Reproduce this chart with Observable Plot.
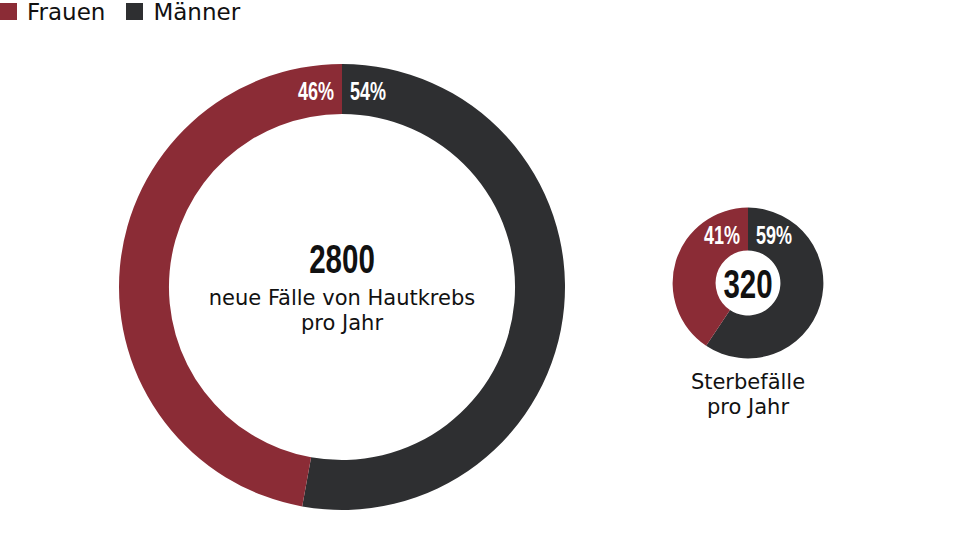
<!DOCTYPE html>
<html><head><meta charset="utf-8">
<script src="https://cdn.jsdelivr.net/npm/d3@7"></script>
<script src="https://cdn.jsdelivr.net/npm/@observablehq/plot@0.6"></script>
<style>
body{margin:0;background:#fff;font-family:"DejaVu Sans",sans-serif;}
#legend{height:28px;display:flex;align-items:flex-start;font-size:23px;line-height:24px;color:#111;white-space:nowrap;}
#legend .item{display:flex;align-items:flex-start;margin-right:21px;}
#legend .sw{display:inline-block;width:17px;height:17px;margin-top:3px;margin-right:10px;}
svg{display:block;}
</style>
</head><body>
<div id="legend"></div>
<div id="chart"></div>
<script>
// ---- data ----
const categories = ["Neuerkrankungen", "Sterbefälle"];
const totals = [2800, 320];
const groups = ["Frauen", "Männer"];
const frauenValues = [1320, 130];     // arc sizes as drawn
const maennerValues = [1480, 190];
const frauenLabels = ["46%", "41%"];
const maennerLabels = ["54%", "59%"];
const captionLines = [["neue Fälle von Hautkrebs", "pro Jahr"], ["Sterbefälle", "pro Jahr"]];

// ---- styles ----
const colors = ["#8b2c36", "#2e2f31"];
const holeRatio = {"Neuerkrankungen": 0.776, "Sterbefälle": 0.43};
const captionInside = {"Neuerkrankungen": true, "Sterbefälle": false};
const condensed = '"Liberation Sans",Arial,sans-serif';
const squeeze = 0.72;

// table: one row per slice (Männer first, clockwise from 12 o'clock)
const rows = [];
categories.forEach((c, i) => {
  rows.push({category: c, group: "Männer", value: maennerValues[i], label: maennerLabels[i], total: totals[i], caption: captionLines[i]});
  rows.push({category: c, group: "Frauen", value: frauenValues[i], label: frauenLabels[i], total: totals[i], caption: captionLines[i]});
});

// legend
const legend = d3.select("#legend");
groups.forEach((g, i) => {
  const it = legend.append("span").attr("class", "item");
  it.append("span").attr("class", "sw").style("background", colors[i]);
  it.append("span").text(g);
});

function donutRender(index, scales, values, dimensions, context) {
  const g = d3.create("svg:g");
  const byCat = d3.group(index, i => rows[i].category);
  for (const [cat, idx] of byCat) {
    const i0 = idx[0];
    const cx = values.x[i0], cy = values.y[i0], R = values.r[i0];
    const ri = R * holeRatio[cat];
    const pie = d3.pie().sort(null).value(i => rows[i].value)(idx);
    const arc = d3.arc().innerRadius(ri).outerRadius(R);
    const gg = g.append("g").attr("transform", `translate(${cx},${cy})`);
    gg.selectAll("path").data(pie).join("path")
      .attr("d", arc)
      .attr("fill", d => values.fill[d.data]);
    // percent labels beside the top split
    pie.forEach(d => {
      const r = rows[d.data];
      const right = d.startAngle === 0;
      gg.append("text")
        .attr("transform", `translate(${right ? 8 : -8},${-R + 36}) scale(${squeeze},1)`)
        .attr("text-anchor", right ? "start" : "end")
        .attr("fill", "#fff")
        .attr("font-family", condensed)
        .attr("font-weight", "bold")
        .attr("font-size", 25)
        .text(r.label);
    });
    const row = rows[i0];
    const inside = captionInside[cat];
    gg.append("text")
      .attr("transform", `translate(0,${inside ? -14 : 15}) scale(${squeeze},1)`)
      .attr("text-anchor", "middle")
      .attr("fill", "#111")
      .attr("font-family", condensed)
      .attr("font-weight", "bold")
      .attr("font-size", 41)
      .text(String(row.total));
    const baseY = inside ? 18 : R + 31;
    row.caption.forEach((line, k) => {
      gg.append("text")
        .attr("x", 0)
        .attr("y", baseY + k * 24.5)
        .attr("text-anchor", "middle")
        .attr("fill", "#111")
        .attr("font-family", '"DejaVu Sans",sans-serif')
        .attr("font-size", 21)
        .text(line);
    });
  }
  return g.node();
}

const chart = Plot.plot({
  width: 971,
  height: 518,
  margin: 0,
  x: {type: "point", domain: categories, range: [341.2, 748], padding: 0, axis: null},
  y: {type: "point", domain: categories, range: [259, 255], padding: 0, axis: null},
  r: {type: "sqrt", domain: [0, 2800], range: [0, 223]},
  color: {domain: groups, range: colors},
  style: {background: "#fff"},
  marks: [
    Plot.dot(rows, {x: "category", y: "category", r: "total", fill: "group", render: donutRender})
  ]
});
document.getElementById("chart").appendChild(chart);
</script>
</body></html>
